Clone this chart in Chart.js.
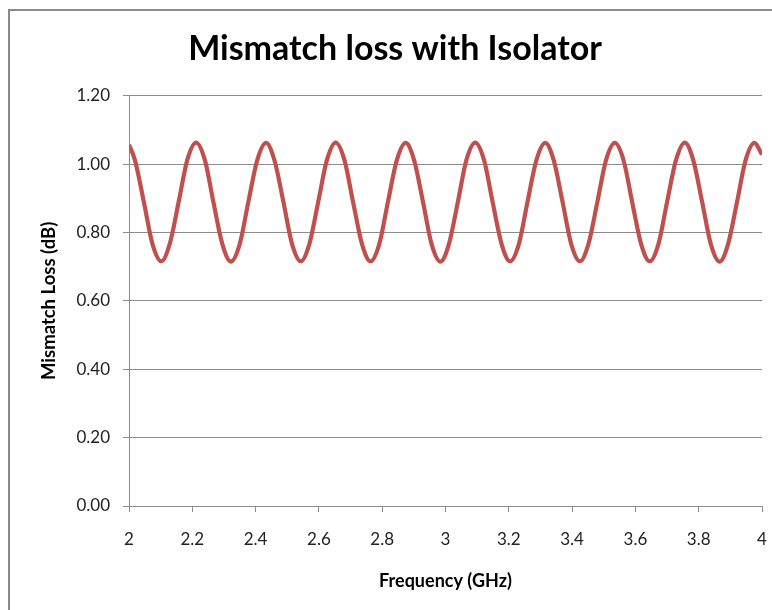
<!DOCTYPE html>
<html>
<head>
<meta charset="utf-8">
<script src="https://cdn.jsdelivr.net/npm/chart.js@4.4.1/dist/chart.umd.min.js"></script>
<style>
  html, body { margin: 0; padding: 0; background: #fff; }
  #wrap { width: 772px; height: 610px; position: relative; }
</style>
</head>
<body>
<div id="wrap"><canvas id="chart"></canvas></div>
<script>
// frequency points (GHz): peaks, troughs and the points in between
const freqGHz = [
  2.000, 2.019, 2.047, 2.074, 2.102, 2.129, 2.157, 2.184,
  2.212, 2.240, 2.267, 2.295, 2.322, 2.350, 2.377, 2.405,
  2.433, 2.460, 2.488, 2.515, 2.543, 2.570, 2.598, 2.625,
  2.653, 2.681, 2.708, 2.736, 2.763, 2.791, 2.818, 2.846,
  2.874, 2.901, 2.929, 2.956, 2.984, 3.011, 3.039, 3.066,
  3.094, 3.122, 3.149, 3.177, 3.204, 3.232, 3.259, 3.287,
  3.315, 3.342, 3.370, 3.397, 3.425, 3.452, 3.480, 3.507,
  3.535, 3.563, 3.590, 3.618, 3.645, 3.673, 3.700, 3.728,
  3.756, 3.783, 3.811, 3.838, 3.866, 3.893, 3.921, 3.948,
  3.976, 4.000
];

// mismatch loss (dB)
const lossDb = [
  1.057, 1.011, 0.889, 0.767, 0.716, 0.768, 0.890, 1.012,
  1.063, 1.011, 0.888, 0.766, 0.715, 0.767, 0.889, 1.011,
  1.062, 1.010, 0.889, 0.767, 0.716, 0.767, 0.890, 1.011,
  1.063, 1.011, 0.889, 0.767, 0.716, 0.767, 0.889, 1.011,
  1.062, 1.011, 0.889, 0.766, 0.715, 0.767, 0.889, 1.012,
  1.063, 1.011, 0.889, 0.767, 0.716, 0.767, 0.889, 1.011,
  1.062, 1.011, 0.889, 0.767, 0.716, 0.768, 0.890, 1.011,
  1.062, 1.010, 0.888, 0.767, 0.716, 0.767, 0.889, 1.011,
  1.063, 1.011, 0.889, 0.767, 0.715, 0.767, 0.889, 1.011,
  1.062, 1.028
];

const xTicks = { min: 2, max: 4, step: 0.2 };
const yTicks = { min: 0, max: 1.2, step: 0.2 };

const FONT = "Lato, 'Open Sans', 'Liberation Sans', sans-serif";
const GRID = "#8c8c8c";

// outer frame of the chart object (only left/top edges are visible)
const frame = {
  id: "frame",
  beforeDraw(chart) {
    const ctx = chart.ctx;
    ctx.save();
    ctx.fillStyle = "#fff";
    ctx.fillRect(0, 0, chart.width, chart.height);
    ctx.strokeStyle = "#8a8a8a";
    ctx.lineWidth = 2;
    ctx.strokeRect(9, 10, chart.width + 40, chart.height + 40);
    ctx.restore();
  }
};

new Chart(document.getElementById("chart"), {
  type: "line",
  data: {
    datasets: [{
      label: "Mismatch loss",
      data: freqGHz.map((f, i) => ({ x: f, y: lossDb[i] })),
      borderColor: "#c0504d",
      borderWidth: 4.2,
      pointRadius: 0,
      fill: false,
      cubicInterpolationMode: "monotone"
    }]
  },
  options: {
    responsive: true,
    maintainAspectRatio: false,
    animation: false,
    layout: { padding: { left: 18, right: 0, top: 0, bottom: 0 } },
    plugins: {
      legend: { display: false },
      tooltip: { enabled: false },
      title: {
        display: true,
        text: "Mismatch loss with Isolator",
        color: "#000",
        font: { family: FONT, size: 34, weight: "bold" },
        padding: { top: 29, bottom: 26 }
      }
    },
    scales: {
      x: {
        type: "linear",
        min: xTicks.min,
        max: xTicks.max,
        afterFit(s) {
          s.height = 104;
          // keep the plot reaching close to the right edge, as in the original
          s.paddingLeft = 0;
          s.paddingRight = 10;
        },
        grid: { drawOnChartArea: false, drawTicks: true, tickLength: 6, color: GRID },
        border: { display: true, color: GRID },
        ticks: {
          stepSize: xTicks.step,
          padding: 17,
          color: "#222",
          font: { family: FONT, size: 17 },
          maxRotation: 0,
          callback: v => String(Number(v.toFixed(1)))
        },
        title: {
          display: true,
          text: "Frequency (GHz)",
          color: "#000",
          font: { family: FONT, size: 18, weight: "bold" },
          padding: { top: 4, bottom: 18 }
        }
      },
      y: {
        min: yTicks.min,
        max: yTicks.max,
        afterFit(s) { s.width = 111; },
        grid: { color: GRID, tickLength: 6 },
        border: { display: true, color: GRID },
        ticks: {
          stepSize: yTicks.step,
          padding: 13,
          color: "#222",
          font: { family: FONT, size: 17 },
          callback: v => v.toFixed(2)
        },
        title: {
          display: true,
          text: "Mismatch Loss (dB)",
          color: "#000",
          font: { family: FONT, size: 18.5, weight: "bold" },
          padding: { top: 20, bottom: 0 }
        }
      }
    }
  },
  plugins: [frame]
});
</script>
</body>
</html>
